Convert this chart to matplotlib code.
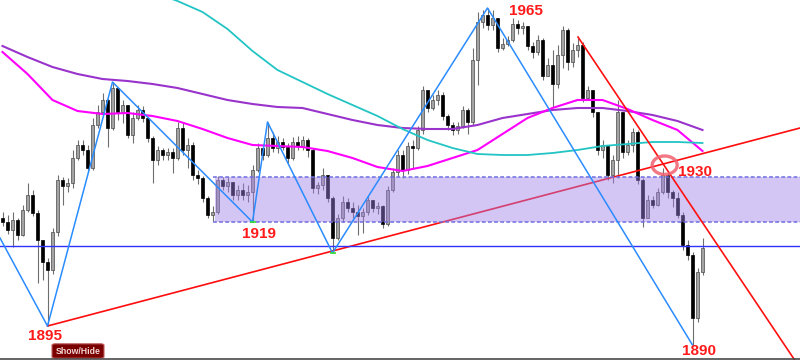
import numpy as np
import matplotlib
matplotlib.use("Agg")
import matplotlib.pyplot as plt
from matplotlib.patches import Rectangle, Ellipse, FancyBboxPatch
from matplotlib.lines import Line2D

# candle data (price), one bar per step, open = previous close
first_open = 1921.5
close = [1920.5, 1918.5, 1921, 1917.25, 1923.5, 1927.25, 1922.75, 1916, 1910.5, 1908.5,
         1918, 1931, 1929.5, 1930.25, 1936.5, 1939.75, 1938.5, 1934, 1944.75, 1948,
         1951, 1944, 1954, 1948, 1949.75, 1942.25, 1946.5, 1948.5, 1946.5, 1941.5,
         1936, 1938.5, 1937.25, 1938, 1936.5, 1944, 1938.5, 1939.75, 1932.25, 1931.5,
         1926.5, 1922.25, 1923, 1931, 1929.5, 1930.5, 1927.25, 1928.5, 1927.25, 1928,
         1933.5, 1939, 1937.25, 1941.5, 1939, 1940.5, 1939.25, 1936.5, 1940.5, 1939.5,
         1941, 1938.5, 1929, 1929.75, 1932.25, 1926.5, 1916.5, 1921.5, 1925.5, 1924,
         1923, 1922, 1923, 1926, 1924, 1924.5, 1920, 1928.5, 1933, 1937.25,
         1933.5, 1939.5, 1939, 1943.5, 1953.5, 1949, 1951, 1952.25, 1947, 1944.75,
         1943.5, 1944.5, 1948.5, 1945.5, 1961, 1970.5, 1972.25, 1969.75, 1971.5, 1964,
         1965, 1966, 1970, 1969, 1969.5, 1964.5, 1963, 1966, 1957, 1959.75,
         1955, 1962.25, 1968.5, 1960.5, 1963.5, 1964.75, 1951.5, 1953.5, 1948, 1938.5,
         1939.75, 1932.25, 1936, 1948, 1938, 1939.75, 1943, 1931, 1921.5, 1926,
         1924.75, 1928, 1932.25, 1928, 1926.5, 1922.25, 1914.75, 1912.25, 1896.5, 1908,
         1914]
high = [1923, 1922.25, 1923, 1921.5, 1924.75, 1930.25, 1928.5, 1923.5, 1914, 1911.5,
        1919, 1932.25, 1931.75, 1931.5, 1938.5, 1941, 1941, 1939.75, 1946.5, 1949.75,
        1952.75, 1951.5, 1955.5, 1954, 1951, 1948, 1948, 1949.75, 1949.5, 1946.5,
        1942, 1939.5, 1939, 1939, 1939, 1945.5, 1945.5, 1941.5, 1940.5, 1933.5,
        1932, 1927, 1924.5, 1932, 1931.75, 1931.75, 1929.75, 1929.75, 1930.25, 1929.75,
        1934.75, 1940.25, 1939.5, 1945.5, 1943, 1942, 1941.5, 1940.25, 1941.75, 1942,
        1942, 1941.5, 1939, 1930.5, 1934, 1931.5, 1927, 1922.5, 1927, 1926.5,
        1925.5, 1924.75, 1924, 1927, 1926, 1925.5, 1924.75, 1929.5, 1934, 1938.5,
        1938.5, 1940.5, 1941, 1944.5, 1954.5, 1953, 1952.25, 1953.5, 1953, 1947.5,
        1945.5, 1945.5, 1949.5, 1949, 1964, 1973, 1973.5, 1974, 1973.5, 1971.5,
        1966.5, 1967, 1971.5, 1971, 1970.5, 1969, 1965.5, 1967.25, 1966.5, 1961.5,
        1963.5, 1964.75, 1969.5, 1969, 1965.25, 1966.5, 1965.5, 1954.5, 1952.25, 1948,
        1941, 1939.75, 1937.25, 1951, 1944, 1941, 1944, 1943.5, 1931.5, 1927.25,
        1927, 1929, 1934, 1933, 1928.5, 1928, 1923, 1916, 1913, 1909,
        1916.5]
low = [1919.5, 1917.5, 1914.25, 1916, 1917, 1923, 1922, 1905.25, 1906, 1894.5,
       1907.5, 1917, 1924.75, 1928, 1929, 1936, 1937.25, 1933, 1933.5, 1944,
       1946.75, 1939.25, 1943.5, 1946, 1945.25, 1941.5, 1940.25, 1946, 1945.5, 1940.5,
       1930.25, 1934.75, 1936, 1936, 1932.75, 1936, 1937.25, 1934, 1931, 1930,
       1925.5, 1921.5, 1920.75, 1922.5, 1928.5, 1928, 1926, 1926, 1926, 1925.5,
       1920.5, 1933, 1936, 1936.75, 1938, 1937.75, 1938.5, 1935.25, 1936, 1938.5,
       1938.5, 1936.75, 1927.75, 1927.5, 1928.5, 1925.5, 1912.75, 1916, 1920.5, 1923,
       1921.5, 1917.25, 1917.75, 1922.25, 1923, 1922.5, 1919, 1919.5, 1928, 1932,
       1931.5, 1932.5, 1934, 1938.5, 1942.5, 1948, 1948.5, 1949.75, 1946, 1943.5,
       1942.25, 1942.5, 1944, 1942.5, 1944.75, 1954.75, 1969, 1968.5, 1968.5, 1963,
       1963.5, 1964.5, 1965.5, 1967.5, 1967.5, 1963.5, 1961.5, 1962.25, 1956, 1957.25,
       1949.25, 1954, 1959, 1958.5, 1959.25, 1961.75, 1950.5, 1951, 1946.75, 1937.25,
       1936.5, 1931, 1930.25, 1931.5, 1936.5, 1937.25, 1938, 1930, 1919.25, 1924,
       1924, 1924.5, 1927.5, 1926.5, 1924.25, 1921.5, 1913.5, 1911, 1889.75, 1895.5,
       1907.25]

# moving averages sampled every 5 bars
ma_slow = [1964.5, 1961.75, 1959.25, 1957.5, 1956.25, 1955.75, 1955, 1954, 1952.5, 1951,
           1950, 1949.25, 1949, 1947.5, 1946, 1944.75, 1944, 1943.75, 1943.75, 1944.75,
           1946.5, 1947.5, 1948.5, 1949, 1949, 1948.25, 1947.25, 1945.75, 1943.5]
ma_mid = [1963, 1957.5, 1951, 1948.25, 1947.5, 1947.75, 1947, 1945.75, 1943.75, 1941.5,
          1939.75, 1939.5, 1939.25, 1938.25, 1936.5, 1934.25, 1933.25, 1934.5, 1936.5, 1938.5,
          1942.5, 1946.5, 1949, 1951, 1951, 1948.75, 1946, 1943.5, 1938.25]
ma_long = [1978, 1975.75, 1973, 1968.75, 1963.25, 1958.5, 1955.5, 1952.5, 1949.75, 1947,
           1943.75, 1941, 1939, 1937.5, 1937.25, 1937.25, 1937.75, 1938.5, 1939.5, 1940,
           1940.5, 1940.5, 1940.25]
ma_long_start = 30

# zigzag pivots (bar index, price)
zz_idx = [-0.5, 9, 22, 50, 53, 66, 97, 138]
zz_price = [1916.5, 1894.5, 1955.5, 1920.5, 1945.5, 1912.75, 1974, 1889.75]

# trend lines (bar index, price) pairs
support_idx = [9, 159.5]
support_price = [1894.5, 1944]
resist_idx = [115.1, 159.5]
resist_price = [1966.75, 1884]

# zone and level
zone_start = 42.5
zone_lo, zone_hi = 1920.5, 1931.75
level = 1914.5

labels = ["1895", "1919", "1965", "1890"]
label_pivots = [1, 3, 6, 7]
cross_label = "1930"

n = len(close)
idx = np.arange(n)
opens = np.array([first_open] + close[:-1])
close = np.array(close)
hi = np.maximum(np.array(high), np.maximum(opens, close))
lo = np.minimum(np.array(low), np.minimum(opens, close))

fig = plt.figure(figsize=(8, 3.6), dpi=100)
ax = fig.add_axes([0, 0, 1, 1])
ax.set_xlim(-0.5, 159.5)
ax.set_ylim(1886, 1976)
ax.axis('off')

# candles
ax.vlines(idx, lo, hi, color='#6e6e6e', lw=0.8, zorder=2)
up = close >= opens
body_h = np.maximum(np.abs(close - opens), 0.3)
body_b = np.minimum(opens, close)
ax.bar(idx[up], body_h[up], bottom=body_b[up], width=0.62, color='#a3a3a3',
       edgecolor='#4a4a4a', lw=0.5, zorder=2.5)
ax.bar(idx[~up], body_h[~up], bottom=body_b[~up], width=0.62, color='#000000',
       edgecolor='#000000', lw=0.5, zorder=2.5)

# moving averages
ma_x = np.arange(0, n, 5)
ax.plot(ma_x, ma_slow, color='#9933cc', lw=1.5, zorder=3)
ax.plot(ma_x, ma_mid, color='#ff00ff', lw=1.5, zorder=3)
ax.plot(np.arange(ma_long_start, n, 5), ma_long, color='#22c4c4', lw=1.3, zorder=3)

# rising support under the zone
ax.plot(support_idx, support_price, color='#ff0d0d', lw=1.2, zorder=3)

# zone
ax.add_patch(Rectangle((zone_start, zone_lo), 160 - zone_start, zone_hi - zone_lo,
                       facecolor='#9f7fe8', alpha=0.45, lw=0, zorder=4))
for yv in (zone_lo, zone_hi):
    ax.plot([zone_start - 0.5, 160], [yv, yv], color='#6e6ee0', lw=1.1,
            dashes=(2.5, 1.5), zorder=5)

ax.axhline(level, color='#2f2fff', lw=1.0, zorder=6)
ax.plot(zz_idx, zz_price, color='#2a8cff', lw=1.1, zorder=6)
ax.plot(resist_idx, resist_price, color='#ff1010', lw=1.2, zorder=6)

# pivot markers
ax.scatter([zz_idx[3], zz_idx[5]], [zz_price[3], zz_price[5]], marker='_',
           s=18, color='#33dd33', lw=1.2, zorder=7)

# crossing of the two trend lines
s1 = (support_price[1] - support_price[0]) / (support_idx[1] - support_idx[0])
s2 = (resist_price[1] - resist_price[0]) / (resist_idx[1] - resist_idx[0])
cx = (resist_price[0] - support_price[0] + s1 * support_idx[0] - s2 * resist_idx[0]) / (s1 - s2)
cy = support_price[0] + s1 * (cx - support_idx[0])
ax.add_patch(Ellipse((cx + 0.3, cy - 0.3), 5.0, 4.6, fill=False, edgecolor='#f26070',
                     lw=2.4, alpha=0.85, zorder=7))

font = dict(family='Liberation Sans', weight='bold', size=11, color='#ff1a1a')
offsets = [(-2, -7.5), (5, -8.5), (28, -2.5), (5, -4.5)]
for txt, p, off in zip(labels, label_pivots, offsets):
    ax.annotate(txt, xy=(zz_idx[p], zz_price[p]), xytext=off, textcoords='offset points',
                ha='center', va='center', zorder=8, **font)
ax.annotate(cross_label, xy=(cx, cy), xytext=(23, -5.5), textcoords='offset points',
            ha='center', va='center', zorder=8, **font)

# bottom border and button
fig.add_artist(Line2D([0, 1], [0.004, 0.004], color='#4a4a4a', lw=1.2,
                      transform=fig.transFigure))
fig.add_artist(FancyBboxPatch((0.067, 0.007), 0.061, 0.036,
                              boxstyle='round,pad=0.002,rounding_size=0.004',
                              facecolor='#7a0000', edgecolor='#c06060', lw=0.8,
                              transform=fig.transFigure))
fig.text(0.0975, 0.025, 'Show/Hide', ha='center', va='center', color='#f2d6d6',
         fontsize=6.3, fontweight='bold', family='Liberation Sans')

fig.savefig('out.png', dpi=100, facecolor='white')
